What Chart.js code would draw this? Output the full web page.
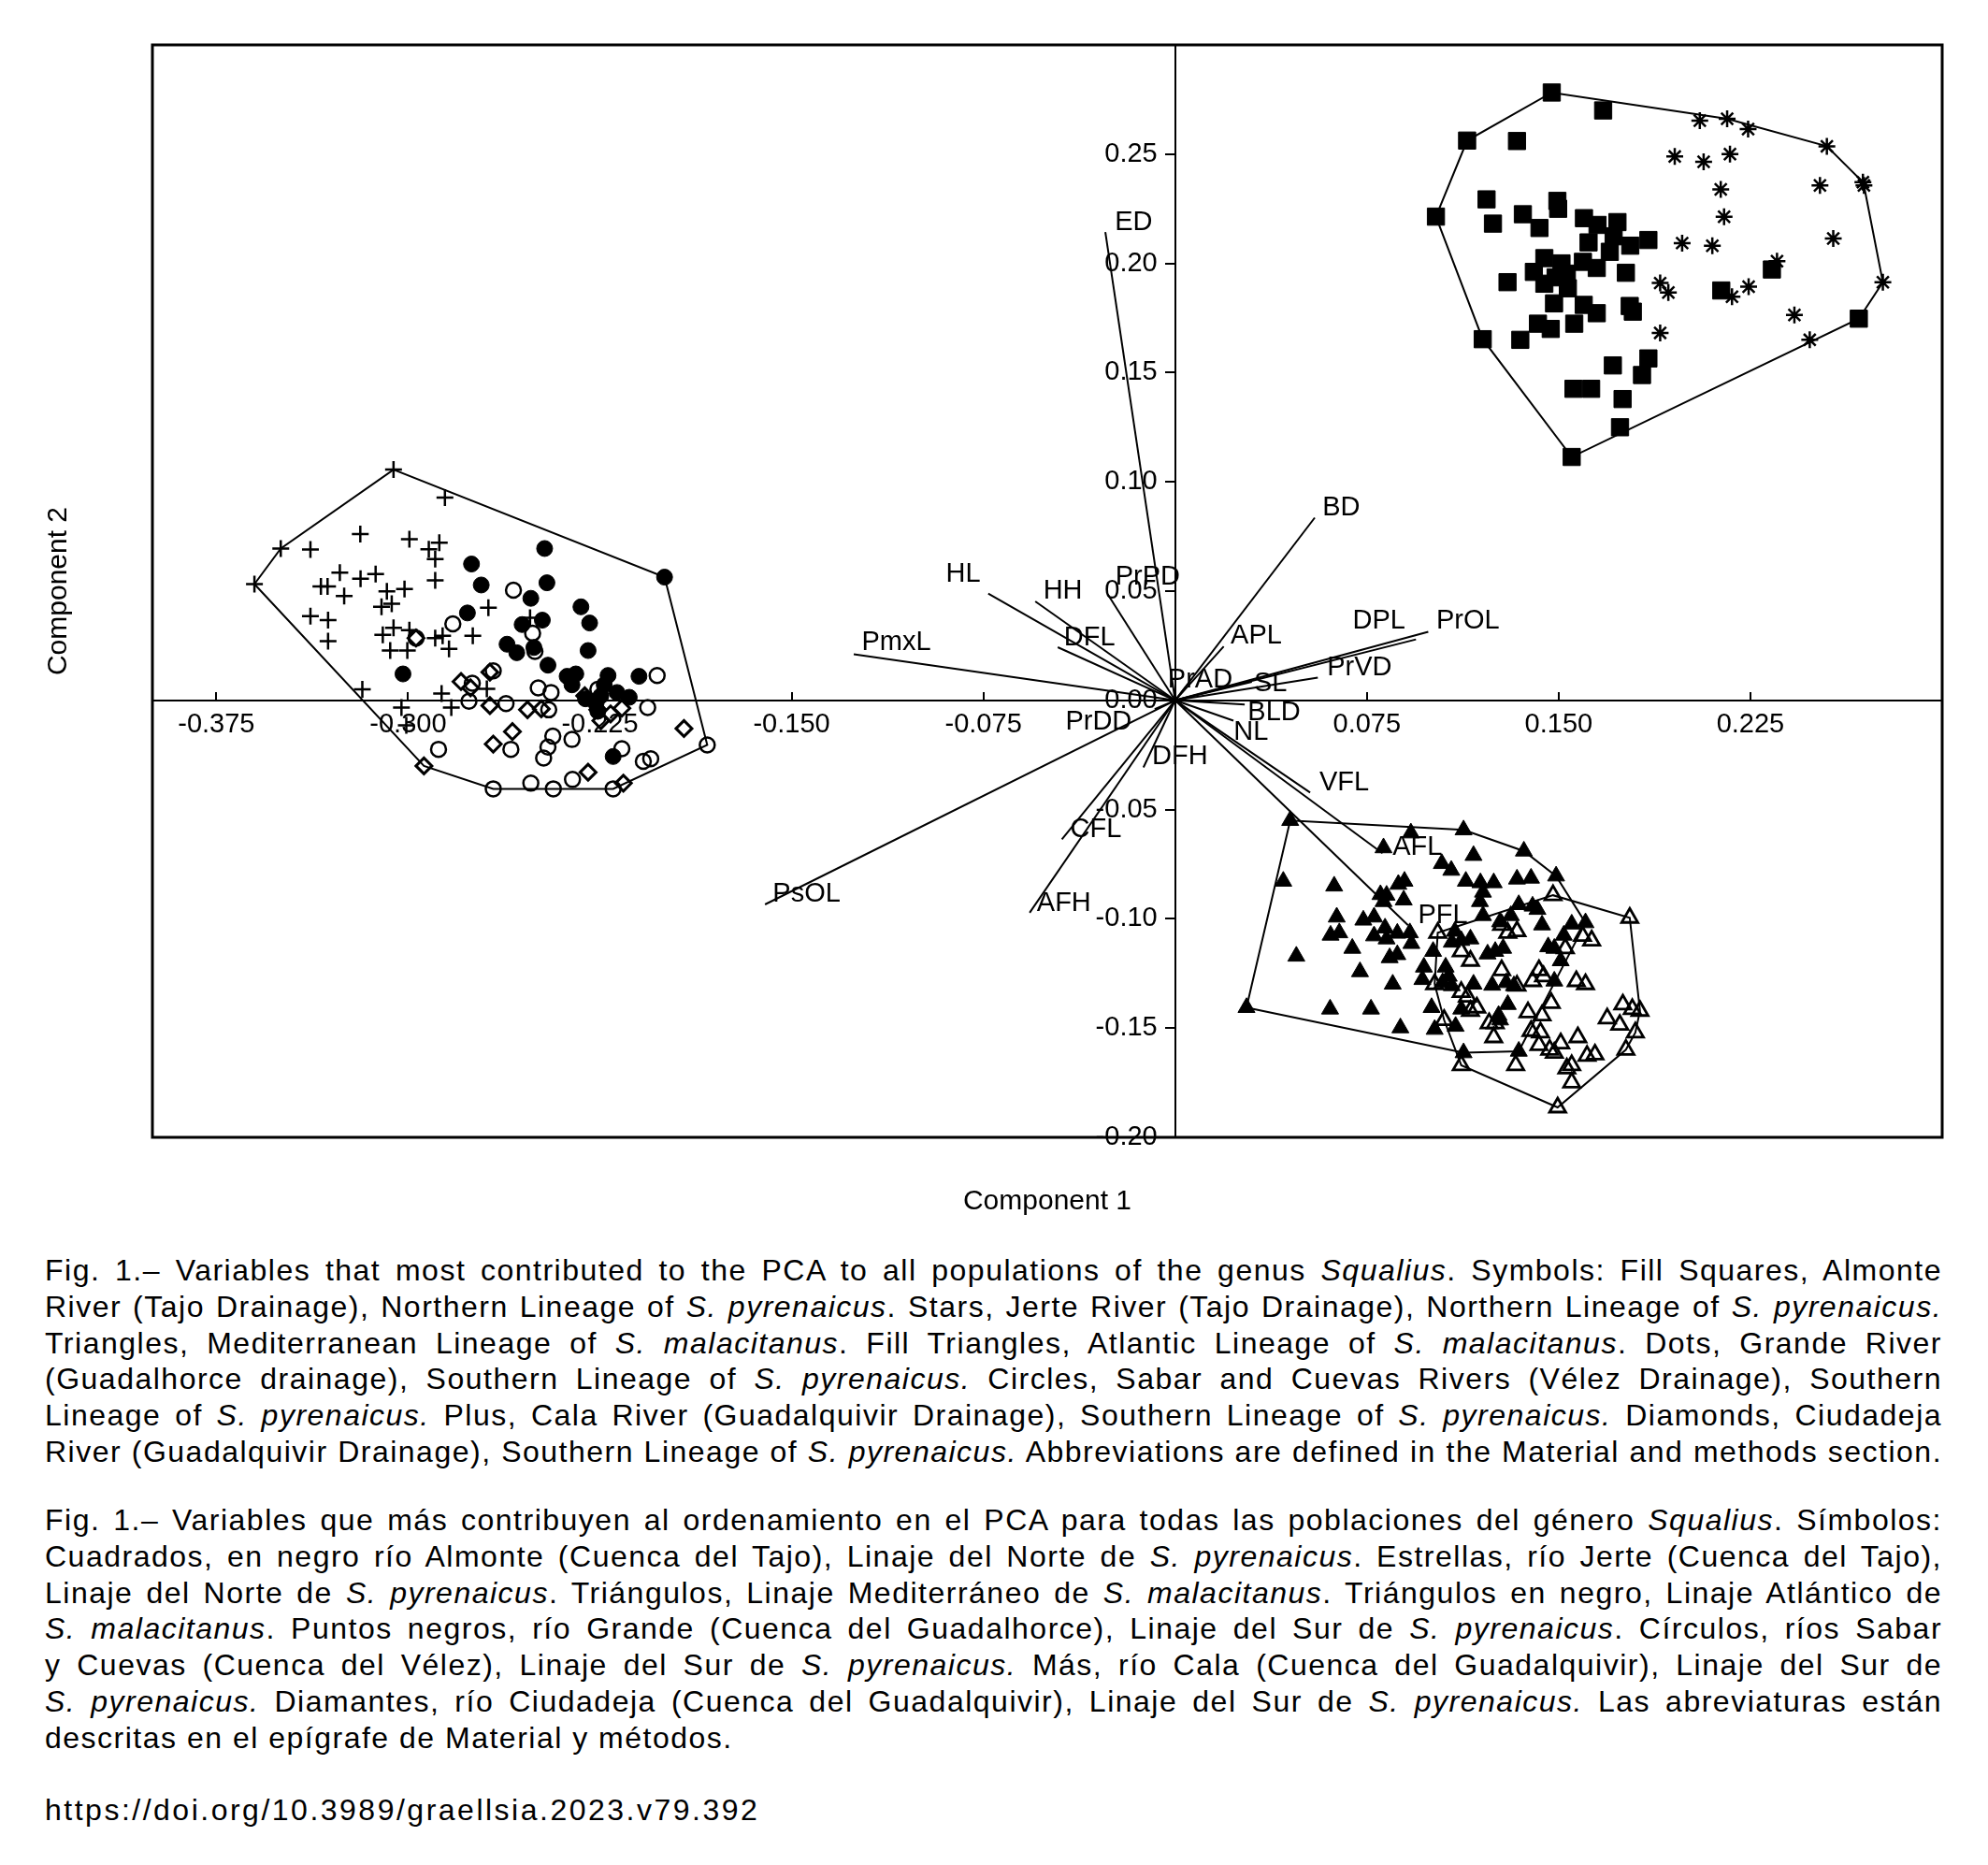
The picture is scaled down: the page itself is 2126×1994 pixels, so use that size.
<!DOCTYPE html>
<html lang="en">
<head>
<meta charset="UTF-8">
<title>PCA Squalius</title>
<script src="https://cdn.jsdelivr.net/npm/chart.js"></script>
<style>
  body { margin: 0; background: #fff; }
  #wrap { position: relative; width: 2126px; height: 1994px; }
  #pca { position: absolute; left: 0; top: 0; }
  .cap { position: absolute; left: 48px; width: 2029px; margin: 0; color: #000;
         font-family: "Liberation Sans", Arial, sans-serif; font-size: 32px; letter-spacing: 1.5px; line-height: 38.8px; }
  .cap span { display: block; white-space: nowrap; text-align: justify; text-align-last: justify; }
  .cap span.end { text-align-last: left; }
  .cap span.doi { letter-spacing: 2.5px; }
</style>
</head>
<body>
<div id="wrap">
  <canvas id="pca" width="2126" height="1330"></canvas>
  <p class="cap" style="top:1339px">
    <span>Fig. 1.– Variables that most contributed to the PCA to all populations of the genus <i>Squalius</i>. Symbols: Fill Squares, Almonte</span>
    <span>River (Tajo Drainage), Northern Lineage of <i>S. pyrenaicus</i>. Stars, Jerte River (Tajo Drainage), Northern Lineage of <i>S. pyrenaicus.</i></span>
    <span>Triangles, Mediterranean Lineage of <i>S. malacitanus</i>. Fill Triangles, Atlantic Lineage of <i>S. malacitanus</i>. Dots, Grande River</span>
    <span>(Guadalhorce drainage), Southern Lineage of <i>S. pyrenaicus.</i> Circles, Sabar and Cuevas Rivers (Vélez Drainage), Southern</span>
    <span>Lineage of <i>S. pyrenaicus.</i> Plus, Cala River (Guadalquivir Drainage), Southern Lineage of <i>S. pyrenaicus.</i> Diamonds, Ciudadeja</span>
    <span>River (Guadalquivir Drainage), Southern Lineage of <i>S. pyrenaicus.</i> Abbreviations are defined in the Material and methods section.</span>
  </p>
  <p class="cap" style="top:1606px">
    <span>Fig. 1.– Variables que más contribuyen al ordenamiento en el PCA para todas las poblaciones del género <i>Squalius</i>. Símbolos:</span>
    <span>Cuadrados, en negro río Almonte (Cuenca del Tajo), Linaje del Norte de <i>S. pyrenaicus</i>. Estrellas, río Jerte (Cuenca del Tajo),</span>
    <span>Linaje del Norte de <i>S. pyrenaicus</i>. Triángulos, Linaje Mediterráneo de <i>S. malacitanus</i>. Triángulos en negro, Linaje Atlántico de</span>
    <span><i>S. malacitanus</i>. Puntos negros, río Grande (Cuenca del Guadalhorce), Linaje del Sur de <i>S. pyrenaicus</i>. Círculos, ríos Sabar</span>
    <span>y Cuevas (Cuenca del Vélez), Linaje del Sur de <i>S. pyrenaicus.</i> Más, río Cala (Cuenca del Guadalquivir), Linaje del Sur de</span>
    <span><i>S. pyrenaicus.</i> Diamantes, río Ciudadeja (Cuenca del Guadalquivir), Linaje del Sur de <i>S. pyrenaicus.</i> Las abreviaturas están</span>
    <span class="end">descritas en el epígrafe de Material y métodos.</span>
  </p>
  <p class="cap" style="top:1916px"><span class="end doi">https://doi.org/10.3989/graellsia.2023.v79.392</span></p>
</div>
<script>
// axis ticks
const xTicks = [-0.375, -0.300, -0.225, -0.150, -0.075, 0, 0.075, 0.150, 0.225];
const xTickLabels = ['-0.375', '-0.300', '-0.225', '-0.150', '-0.075', '', '0.075', '0.150', '0.225'];
const yTicks = [-0.20, -0.15, -0.10, -0.05, 0, 0.05, 0.10, 0.15, 0.20, 0.25];
const yTickLabels = ['-0.20', '-0.15', '-0.10', '-0.05', '0.00', '0.05', '0.10', '0.15', '0.20', '0.25'];

// Almonte (fill squares)
const sqX = [0.1473, 0.1674, 0.1142, 0.1337, 0.1020, 0.1218, 0.1243, 0.1495, 0.1498, 0.1360, 0.1425, 0.1599, 0.1652,
  0.1730, 0.1617, 0.1715, 0.1700, 0.1780, 0.1851, 0.1444, 0.1511, 0.1595, 0.1649, 0.1403, 0.1532, 0.1444, 0.1536,
  0.1300, 0.1763, 0.1482, 0.1598, 0.1649, 0.1778, 0.1790, 0.1419, 0.1469, 0.1561, 0.1350, 0.1203, 0.2136, 0.2334,
  0.1851, 0.1712, 0.1826, 0.1558, 0.1627, 0.1750, 0.1740, 0.1551, 0.2674, 0.1488];
const sqY = [0.2782, 0.2700, 0.2562, 0.2560, 0.2214, 0.2293, 0.2182, 0.2286, 0.2250, 0.2225, 0.2162, 0.2207, 0.2176,
  0.2189, 0.2096, 0.2124, 0.2053, 0.2081, 0.2107, 0.2024, 0.2000, 0.2007, 0.1979, 0.1961, 0.1953, 0.1907, 0.1886,
  0.1914, 0.1957, 0.1817, 0.1810, 0.1772, 0.1805, 0.1779, 0.1724, 0.1700, 0.1724, 0.1650, 0.1653, 0.1876, 0.1972,
  0.1565, 0.1533, 0.1489, 0.1426, 0.1426, 0.1379, 0.1250, 0.1114, 0.1747, 0.1936];

// Jerte (stars)
const stX = [0.2052, 0.2159, 0.2241, 0.2549, 0.2690, 0.2694, 0.1954, 0.2067, 0.2170, 0.2134, 0.2522, 0.2147,
  0.1983, 0.2101, 0.2574, 0.2354, 0.1897, 0.1929, 0.2178, 0.2243, 0.2422, 0.1897, 0.2482, 0.2768];
const stY = [0.2653, 0.2662, 0.2615, 0.2536, 0.2372, 0.2357, 0.2489, 0.2465, 0.2500, 0.2339, 0.2357, 0.2213,
  0.2093, 0.2081, 0.2114, 0.2010, 0.1910, 0.1867, 0.1847, 0.1893, 0.1764, 0.1682, 0.1650, 0.1914];

// Atlantic lineage (fill triangles)
const ftX = [0.0450, 0.0922, 0.1128, 0.1364, 0.1490, 0.0815, 0.0423, 0.0622, 0.1167, 0.1043, 0.1080, 0.0897, 0.0873,
  0.1137, 0.1194, 0.1246, 0.1337, 0.1392, 0.0803, 0.0827, 0.0894, 0.0815, 0.1204, 0.1192, 0.0632, 0.0736, 0.0778,
  0.1204, 0.1344, 0.1398, 0.1417, 0.1313, 0.1271, 0.1435, 0.1605, 0.1551, 0.0608, 0.0642, 0.0778, 0.0821, 0.0827,
  0.0869, 0.0918, 0.0924, 0.1094, 0.1119, 0.1155, 0.1082, 0.0693, 0.0474, 0.0839, 0.0869, 0.1009, 0.1222, 0.1252,
  0.1283, 0.1520, 0.1459, 0.1483, 0.1508, 0.0723, 0.0973, 0.1058, 0.1070, 0.0967, 0.1046, 0.1082, 0.0851, 0.1167,
  0.1240, 0.1295, 0.1325, 0.1483, 0.1003, 0.1119, 0.1301, 0.1265, 0.1271, 0.0279, 0.0606, 0.0766, 0.0881, 0.1015,
  0.1097, 0.1128, 0.1344];
const ftY = [-0.0550, -0.0607, -0.0593, -0.0690, -0.0804, -0.0675, -0.0828, -0.0850, -0.0710, -0.0747, -0.0778, -0.0828,
  -0.0842, -0.0828, -0.0835, -0.0835, -0.0818, -0.0814, -0.0889, -0.0892, -0.0914, -0.0921, -0.0878, -0.0921, -0.0992,
  -0.1006, -0.0992, -0.0985, -0.0935, -0.0942, -0.0957, -0.0985, -0.1014, -0.1028, -0.1018, -0.1024, -0.1075, -0.1064,
  -0.1078, -0.1042, -0.1092, -0.1066, -0.1064, -0.1113, -0.1057, -0.1099, -0.1092, -0.1107, -0.1135, -0.1171, -0.1178,
  -0.1164, -0.1149, -0.1161, -0.1149, -0.1135, -0.1075, -0.1128, -0.1135, -0.1192, -0.1242, -0.1221, -0.1221, -0.1263,
  -0.1278, -0.1292, -0.1306, -0.1299, -0.1299, -0.1304, -0.1292, -0.1306, -0.1285, -0.1406, -0.1413, -0.1392, -0.1442,
  -0.1463, -0.1406, -0.1413, -0.1413, -0.1499, -0.1506, -0.1492, -0.1613, -0.1606];

// Mediterranean lineage (open triangles)
const otX = [0.1027, 0.1478, 0.1778, 0.1818, 0.1763, 0.1496, 0.1119, 0.1015, 0.1277, 0.1301, 0.1337, 0.1119, 0.1155,
  0.1277, 0.1423, 0.1441, 0.1398, 0.1337, 0.1569, 0.1605, 0.1526, 0.1593, 0.1629, 0.1119, 0.1143, 0.1180, 0.1155,
  0.1052, 0.1252, 0.1246, 0.1380, 0.1435, 0.1471, 0.1392, 0.1429, 0.1423, 0.1465, 0.1508, 0.1483, 0.1575, 0.1611,
  0.1642, 0.1690, 0.1739, 0.1751, 0.1788, 0.1800, 0.1532, 0.1551, 0.1551, 0.1332, 0.1228];
const otY = [-0.1064, -0.0892, -0.0995, -0.1421, -0.1599, -0.1863, -0.1670, -0.1299, -0.1028, -0.1064, -0.1057, -0.1149,
  -0.1192, -0.1235, -0.1235, -0.1263, -0.1285, -0.1306, -0.1285, -0.1299, -0.1135, -0.1078, -0.1099, -0.1335, -0.1356,
  -0.1406, -0.1421, -0.1463, -0.1478, -0.1542, -0.1428, -0.1442, -0.1385, -0.1513, -0.1520, -0.1578, -0.1599, -0.1570,
  -0.1613, -0.1542, -0.1627, -0.1621, -0.1456, -0.1485, -0.1392, -0.1413, -0.1520, -0.1685, -0.1670, -0.1749, -0.1670,
  -0.1478];

// Cala (plus)
const plX = [-0.3057, -0.3498, -0.3601, -0.2856, -0.3187, -0.3382, -0.2995, -0.2919, -0.2878, -0.2894, -0.2894, -0.3267,
  -0.3186, -0.3127, -0.3341, -0.3315, -0.3250, -0.3083, -0.3014, -0.3064, -0.3104, -0.3382, -0.3313, -0.3313, -0.2686,
  -0.2523, -0.3057, -0.2995, -0.3099, -0.3070, -0.3003, -0.2894, -0.2865, -0.2840, -0.2747, -0.3179, -0.2869, -0.2692,
  -0.2831, -0.3026, -0.3007];
const plY = [0.1056, 0.0695, 0.0532, 0.0928, 0.0761, 0.0690, 0.0738, 0.0692, 0.0721, 0.0647, 0.0549, 0.0585, 0.0557,
  0.0578, 0.0521, 0.0521, 0.0478, 0.0499, 0.0510, 0.0442, 0.0428, 0.0385, 0.0367, 0.0271, 0.0424, 0.0378, 0.0332,
  0.0321, 0.0300, 0.0228, 0.0228, 0.0285, 0.0296, 0.0236, 0.0296, 0.0050, 0.0031, 0.0053, -0.0033, -0.0033, -0.0114];

// Grande (dots)
const dtX = [-0.2466, -0.1997, -0.2752, -0.2714, -0.2457, -0.2520, -0.2324, -0.2290, -0.2768, -0.2554, -0.2475, -0.2613,
  -0.2575, -0.2508, -0.2296, -0.2453, -0.3020, -0.2378, -0.2344, -0.2359, -0.2218, -0.2097, -0.2233, -0.2183, -0.2135,
  -0.2306, -0.2265, -0.2246, -0.2258, -0.2198];
const dtY = [0.0695, 0.0564, 0.0624, 0.0528, 0.0538, 0.0467, 0.0428, 0.0354, 0.0400, 0.0347, 0.0367, 0.0257, 0.0218,
  0.0242, 0.0228, 0.0161, 0.0121, 0.0110, 0.0121, 0.0071, 0.0114, 0.0110, 0.0071, 0.0036, 0.0014, 0.0007, -0.0015,
  0.0021, -0.0050, -0.0257];

// Sabar and Cuevas (circles)
const ciX = [-0.2588, -0.2825, -0.2969, -0.2513, -0.2504, -0.2667, -0.2749, -0.2491, -0.2441, -0.2762, -0.2617, -0.2450,
  -0.2258, -0.2026, -0.2063, -0.1830, -0.2881, -0.2598, -0.2434, -0.2359, -0.2453, -0.2470, -0.2164, -0.2080, -0.2051,
  -0.2667, -0.2520, -0.2432, -0.2357, -0.2198];
const ciY = [0.0504, 0.0350, 0.0285, 0.0307, 0.0224, 0.0135, 0.0078, 0.0057, 0.0036, -0.0004, -0.0015, -0.0043, 0.0050,
  0.0114, -0.0033, -0.0204, -0.0224, -0.0224, -0.0164, -0.0179, -0.0214, -0.0264, -0.0221, -0.0279, -0.0267, -0.0405,
  -0.0379, -0.0405, -0.0362, -0.0405];

// Ciudadeja (diamonds)
const diX = [-0.2969, -0.2680, -0.2793, -0.2756, -0.2680, -0.2533, -0.2479, -0.2309, -0.2258, -0.2208, -0.2164, -0.2246,
  -0.2592, -0.2667, -0.1921, -0.2938, -0.2296, -0.2158];
const diY = [0.0285, 0.0129, 0.0086, 0.0057, -0.0024, -0.0043, -0.0039, 0.0021, -0.0043, -0.0062, -0.0036, -0.0093,
  -0.0143, -0.0200, -0.0129, -0.0300, -0.0329, -0.0379];

// variable loadings (vector ends) and their label anchors
const loadNames = ['ED', 'HL', 'HH', 'PrPD', 'DFL', 'PmxL', 'BD', 'APL', 'PrOL', 'DPL', 'PrVD', 'SL', 'PrAD', 'BLD',
  'NL', 'VFL', 'AFL', 'PFL', 'DFH', 'PrDD', 'CFL', 'AFH', 'PsOL'];
const loadX = [-0.0273, -0.0731, -0.0547, -0.0264, -0.0459, -0.1257, 0.0546, 0.0190, 0.0990, 0.0942, 0.0558, 0.0300,
  0.0040, 0.0272, 0.0228, 0.0528, 0.0811, 0.0911, -0.0124, -0.0080, -0.0443, -0.0569, -0.1604];
const loadY = [0.2143, 0.0489, 0.0453, 0.0486, 0.0243, 0.0211, 0.0836, 0.0247, 0.0314, 0.0279, 0.0104, 0.0085,
  0.0060, -0.0019, -0.0093, -0.0422, -0.0700, -0.1029, -0.0307, -0.0040, -0.0636, -0.0972, -0.0934];
const labX = [-0.0236, -0.0897, -0.0516, -0.0234, -0.0435, -0.1226, 0.0576, 0.0217, 0.1021, 0.0694, 0.0594, 0.0308,
  -0.0029, 0.0284, 0.0229, 0.0564, 0.0850, 0.0950, -0.0090, -0.0429, -0.0410, -0.0541, -0.1574];
const labY = [0.2186, 0.0579, 0.0500, 0.0564, 0.0285, 0.0264, 0.0881, 0.0293, 0.0364, 0.0364, 0.0150, 0.0078,
  0.0093, -0.0057, -0.0147, -0.0376, -0.0672, -0.0986, -0.0257, -0.0100, -0.0593, -0.0929, -0.0887];

const FONT = '"Liberation Sans", Arial, sans-serif';
const pts = (xs, ys) => xs.map((x, i) => ({x: x, y: ys[i]}));

// convex hull (monotone chain) of the given groups
function hull(xs, ys) {
  const p = pts(xs, ys).sort((a, b) => a.x - b.x || a.y - b.y);
  const cross = (o, a, b) => (a.x - o.x) * (b.y - o.y) - (a.y - o.y) * (b.x - o.x);
  const lo = [], up = [];
  for (const q of p) {
    while (lo.length >= 2 && cross(lo[lo.length - 2], lo[lo.length - 1], q) <= 0) lo.pop();
    lo.push(q);
  }
  for (const q of p.slice().reverse()) {
    while (up.length >= 2 && cross(up[up.length - 2], up[up.length - 1], q) <= 0) up.pop();
    up.push(q);
  }
  const h = lo.slice(0, -1).concat(up.slice(0, -1));
  h.push(h[0]);
  return h;
}

function lineSet(data) {
  return {data: data, showLine: true, borderColor: '#000', borderWidth: 2, pointRadius: 0, fill: false, order: 2};
}
function markSet(xs, ys, style, radius, bg, bw) {
  return {data: pts(xs, ys), pointStyle: style, pointRadius: radius, pointBackgroundColor: bg,
    pointBorderColor: '#000', pointBorderWidth: bw, showLine: false, order: 0};
}

const none = 'rgba(0,0,0,0)';
const datasets = [
  lineSet(hull(sqX.concat(stX), sqY.concat(stY))),
  lineSet(hull(ftX, ftY)),
  lineSet(hull(otX, otY)),
  lineSet(hull(plX.concat(dtX, ciX, diX), plY.concat(dtY, ciY, diY))),
  ...loadNames.map((n, i) => lineSet([{x: 0, y: 0}, {x: loadX[i], y: loadY[i]}])),
  markSet(sqX, sqY, 'rect', 13, '#000', 1),
  markSet(stX, stY, 'star', 9, none, 2.5),
  markSet(ftX, ftY, 'triangle', 10.5, '#000', 1),
  markSet(otX, otY, 'triangle', 10, none, 2.8),
  markSet(plX, plY, 'cross', 9, none, 2.5),
  markSet(dtX, dtY, 'circle', 8.5, '#000', 1),
  markSet(ciX, ciY, 'circle', 8, none, 2.5),
  markSet(diX, diY, 'rectRot', 8.5, none, 3)
];

// frame, y tick labels, variable names and axis titles
const decor = {
  id: 'decor',
  afterDraw(chart) {
    const {ctx, chartArea: a} = chart;
    const sx = chart.scales.x, sy = chart.scales.y;
    ctx.save();
    ctx.strokeStyle = '#000';
    ctx.lineWidth = 3;
    ctx.strokeRect(a.left, a.top, a.right - a.left, a.bottom - a.top);
    ctx.fillStyle = '#000';
    ctx.font = '29px ' + FONT;
    ctx.textAlign = 'right';
    ctx.textBaseline = 'middle';
    const x0 = sx.getPixelForValue(0);
    yTicks.forEach((v, i) => ctx.fillText(yTickLabels[i], x0 - 19, sy.getPixelForValue(v)));
    ctx.textAlign = 'left';
    loadNames.forEach((n, i) => ctx.fillText(n, sx.getPixelForValue(labX[i]), sy.getPixelForValue(labY[i])));
    ctx.font = '30px ' + FONT;
    ctx.textAlign = 'center';
    ctx.fillText('Component 1', (a.left + a.right) / 2, a.bottom + 69);
    ctx.translate(a.left - 100, (a.top + a.bottom) / 2);
    ctx.rotate(-Math.PI / 2);
    ctx.fillText('Component 2', 0, 0);
    ctx.restore();
  }
};

new Chart(document.getElementById('pca'), {
  type: 'scatter',
  data: {datasets: datasets},
  options: {
    responsive: false,
    devicePixelRatio: 1,
    animation: false,
    events: [],
    layout: {padding: {left: 163, top: 48, right: 49, bottom: 114}},
    plugins: {legend: {display: false}, tooltip: {enabled: false}},
    scales: {
      x: {
        type: 'linear', min: -0.40, max: 0.30, position: {y: 0},
        afterBuildTicks: s => { s.ticks = xTicks.map(v => ({value: v})); },
        afterFit: s => { s.height = 0; },
        ticks: {autoSkip: false, maxRotation: 0, padding: 19, color: '#000', font: {family: FONT, size: 29},
          callback: (v, i) => xTickLabels[i]},
        grid: {drawOnChartArea: false, drawTicks: true, tickLength: -10, color: '#000', lineWidth: 2},
        border: {display: true, color: '#000', width: 2}
      },
      y: {
        type: 'linear', min: -0.20, max: 0.30, position: {x: 0},
        afterBuildTicks: s => { s.ticks = yTicks.map(v => ({value: v})); },
        afterFit: s => { s.width = 0; },
        ticks: {display: false},
        grid: {drawOnChartArea: false, drawTicks: true, tickLength: 10, color: '#000', lineWidth: 2},
        border: {display: true, color: '#000', width: 2}
      }
    }
  },
  plugins: [decor]
});
</script>
</body>
</html>
